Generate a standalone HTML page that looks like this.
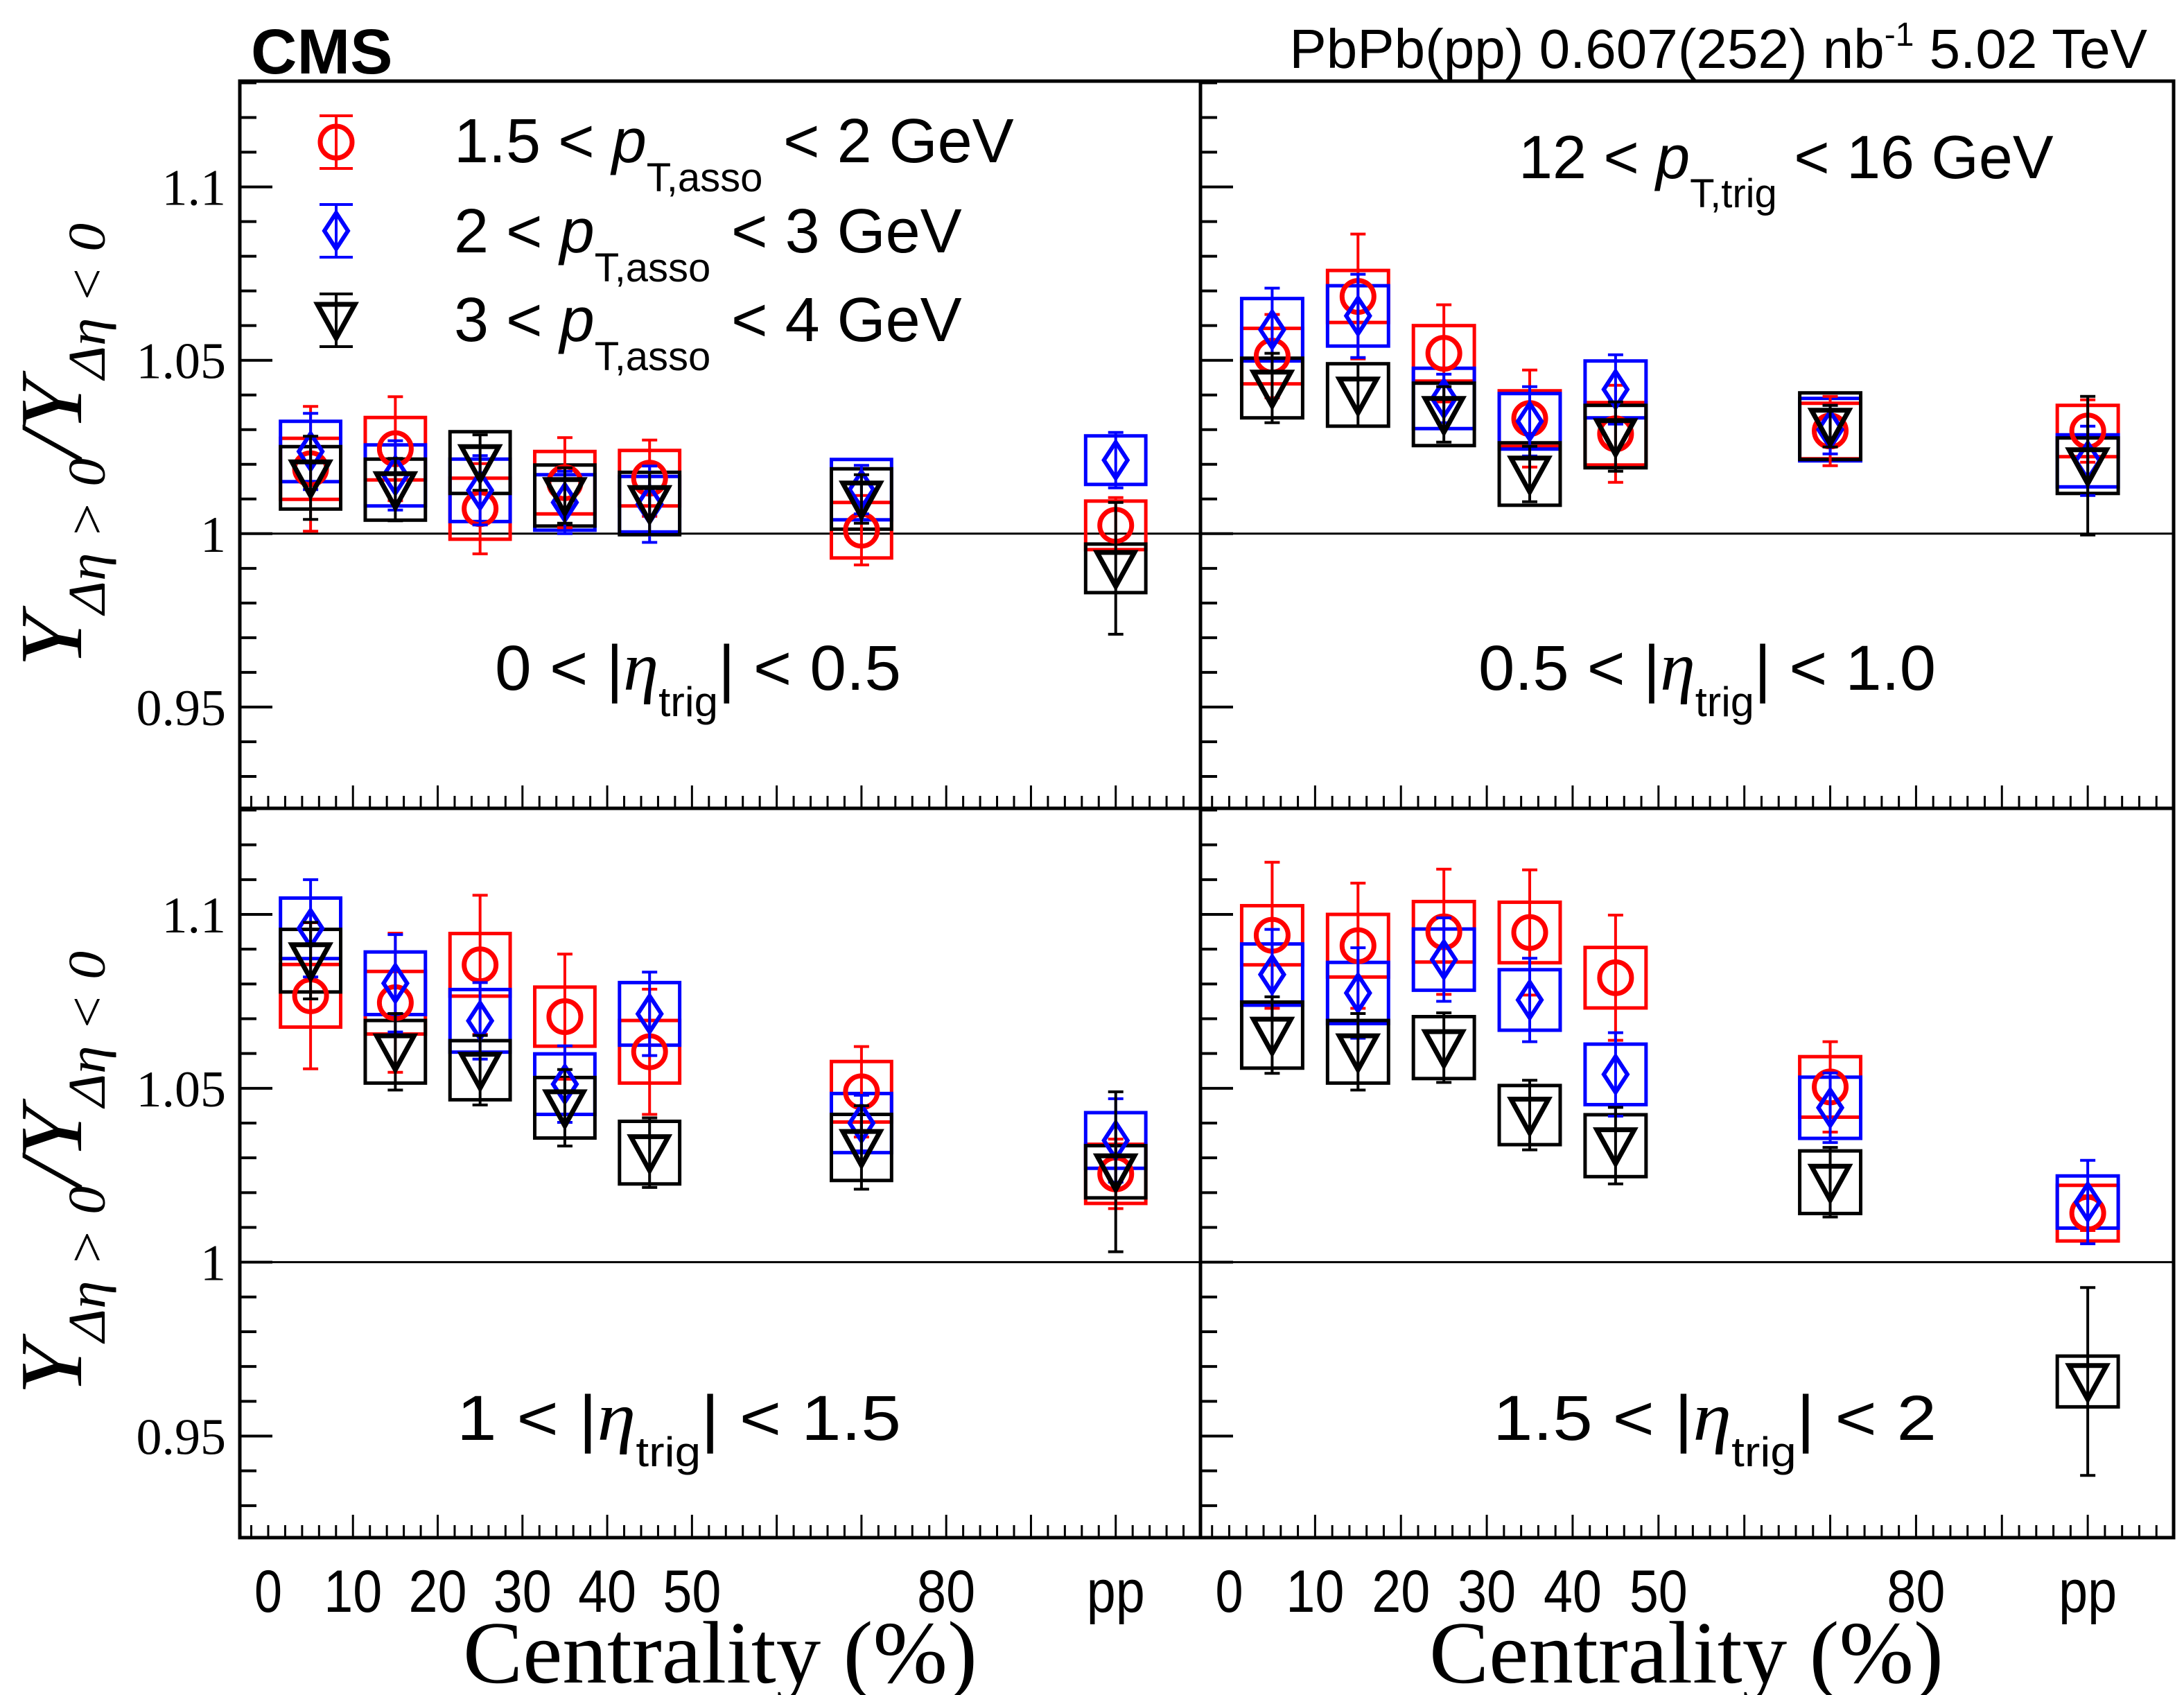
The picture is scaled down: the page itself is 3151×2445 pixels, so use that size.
<!DOCTYPE html>
<html><head><meta charset="utf-8">
<style>
html,body{margin:0;padding:0;background:#fff;}
svg{display:block;}
text{font-family:"Liberation Sans",sans-serif;}
.serif{font-family:"Liberation Serif",serif;}
</style></head>
<body>
<svg id="chart" width="3151" height="2445" viewBox="0 0 3151 2445" xmlns="http://www.w3.org/2000/svg">
<rect x="0" y="0" width="3151" height="2445" fill="#fff"/>
<g id="marks"></g>
<g id="frames"></g>
<text x="362" y="106" font-size="92" font-weight="bold">CMS</text>
<text x="3098" y="98" font-size="80" text-anchor="end">PbPb(pp) 0.607(252) nb<tspan font-size="48" dy="-32">-1</tspan><tspan dy="32"> 5.02 TeV</tspan></text>

<g>
 <text x="655" y="234" font-size="90">1.5 &lt; <tspan font-style="italic">p</tspan><tspan font-size="58" dy="42">T,asso</tspan><tspan dy="-42" x="1130">&lt; 2 GeV</tspan></text>
 <text x="655" y="364" font-size="90">2 &lt; <tspan font-style="italic">p</tspan><tspan font-size="58" dy="42">T,asso</tspan><tspan dy="-42" x="1055">&lt; 3 GeV</tspan></text>
 <text x="655" y="492" font-size="90">3 &lt; <tspan font-style="italic">p</tspan><tspan font-size="58" dy="42">T,asso</tspan><tspan dy="-42" x="1055">&lt; 4 GeV</tspan></text>
</g>
<text x="2191" y="257" font-size="88">12 &lt; <tspan font-style="italic">p</tspan><tspan font-size="58" dy="42">T,trig</tspan><tspan dy="-42"> &lt; 16 GeV</tspan></text>
<text x="714" y="995" font-size="92" textLength="586" lengthAdjust="spacingAndGlyphs">0 &lt; |<tspan font-style="italic" class="serif" font-size="100">η</tspan><tspan font-size="60" dy="38">trig</tspan><tspan dy="-38">| &lt; 0.5</tspan></text>
<text x="2133" y="995" font-size="92" textLength="660" lengthAdjust="spacingAndGlyphs">0.5 &lt; |<tspan font-style="italic" class="serif" font-size="100">η</tspan><tspan font-size="60" dy="38">trig</tspan><tspan dy="-38">| &lt; 1.0</tspan></text>
<text x="659" y="2077" font-size="92" textLength="641" lengthAdjust="spacingAndGlyphs">1 &lt; |<tspan font-style="italic" class="serif" font-size="100">η</tspan><tspan font-size="60" dy="38">trig</tspan><tspan dy="-38">| &lt; 1.5</tspan></text>
<text x="2154" y="2077" font-size="92" textLength="640" lengthAdjust="spacingAndGlyphs">1.5 &lt; |<tspan font-style="italic" class="serif" font-size="100">η</tspan><tspan font-size="60" dy="38">trig</tspan><tspan dy="-38">| &lt; 2</tspan></text>

<text class="serif" x="668" y="2427" font-size="128" textLength="742" lengthAdjust="spacingAndGlyphs">Centrality (%)</text>
<text class="serif" x="2062" y="2427" font-size="128" textLength="742" lengthAdjust="spacingAndGlyphs">Centrality (%)</text>

<text class="serif" transform="translate(117,962) rotate(-90)" font-size="128" textLength="640" lengthAdjust="spacingAndGlyphs"><tspan font-style="italic">Y</tspan><tspan font-size="76" dy="34" font-style="italic">Δη &gt; 0</tspan><tspan dy="-34" font-style="italic">/Y</tspan><tspan font-size="76" dy="34" font-style="italic">Δη &lt; 0</tspan></text>
<text class="serif" transform="translate(117,2012) rotate(-90)" font-size="128" textLength="640" lengthAdjust="spacingAndGlyphs"><tspan font-style="italic">Y</tspan><tspan font-size="76" dy="34" font-style="italic">Δη &gt; 0</tspan><tspan dy="-34" font-style="italic">/Y</tspan><tspan font-size="76" dy="34" font-style="italic">Δη &lt; 0</tspan></text>
</svg>
<script>
const categories = [5, 15, 25, 35, 45, 70, 100];
const xTickValues = [0, 10, 20, 30, 40, 50, 80, 100];
const xTickLabels = ["0", "10", "20", "30", "40", "50", "80", "pp"];
const yTickValues = [0.95, 1, 1.05, 1.1];
const yTickLabels = ["0.95", "1", "1.05", "1.1"];
const seriesNames = ["red", "blue", "black"];

// top-left: 0<|eta|<0.5
const tlRed = [1.0187, 1.0245, 1.0072, 1.0147, 1.016, 1.001, 1.0024];
const tlRedStat = [0.018, 0.015, 0.013, 0.013, 0.011, 0.01, 0.008];
const tlRedSys = [0.0088, 0.009, 0.0088, 0.009, 0.008, 0.008, 0.007];
const tlBlue = [1.0237, 1.0168, 1.0125, 1.009, 1.0085, 1.0127, 1.0212];
const tlBlueStat = [0.011, 0.010, 0.010, 0.009, 0.011, 0.007, 0.008];
const tlBlueSys = [0.0087, 0.0088, 0.009, 0.008, 0.008, 0.0087, 0.007];
const tlBlack = [1.0161, 1.0127, 1.0205, 1.011, 1.0087, 1.010, 0.990];
const tlBlackStat = [0.012, 0.009, 0.008, 0.008, 0.009, 0.007, 0.019];
const tlBlackSys = [0.009, 0.0088, 0.0089, 0.0088, 0.009, 0.0087, 0.007];

// top-right: 0.5<|eta|<1.0
const trRed = [1.0512, 1.0684, 1.052, 1.0332, 1.0288, 1.0296, 1.0296];
const trRedStat = [0.012, 0.018, 0.014, 0.014, 0.014, 0.01, 0.009];
const trRedSys = [0.008, 0.0075, 0.008, 0.008, 0.009, 0.008, 0.0074];
const trBlue = [1.0588, 1.0628, 1.039, 1.0324, 1.0416, 1.030, 1.021];
const trBlueStat = [0.012, 0.012, 0.007, 0.01, 0.01, 0.007, 0.01];
const trBlueSys = [0.009, 0.0087, 0.0087, 0.008, 0.0082, 0.009, 0.0075];
const trBlack = [1.042, 1.040, 1.0344, 1.0172, 1.028, 1.031, 1.0196];
const trBlackStat = [0.01, 0.009, 0.008, 0.008, 0.01, 0.006, 0.02];
const trBlackSys = [0.0086, 0.009, 0.009, 0.009, 0.009, 0.0096, 0.008];

// bottom-left: 1<|eta|<1.5
const blRed = [1.0766, 1.0746, 1.0855, 1.0706, 1.0605, 1.049, 1.0254];
const blRedStat = [0.021, 0.02, 0.02, 0.018, 0.018, 0.013, 0.01];
const blRedSys = [0.009, 0.009, 0.009, 0.0085, 0.009, 0.0087, 0.0085];
const blBlue = [1.096, 1.0802, 1.0694, 1.0512, 1.0714, 1.040, 1.035];
const blBlueStat = [0.014, 0.014, 0.011, 0.011, 0.012, 0.008, 0.012];
const blBlueSys = [0.0087, 0.009, 0.009, 0.0087, 0.009, 0.0085, 0.008];
const blBlack = [1.0867, 1.0605, 1.0552, 1.0444, 1.0315, 1.033, 1.026];
const blBlackStat = [0.011, 0.011, 0.01, 0.011, 0.01, 0.012, 0.023];
const blBlackSys = [0.009, 0.009, 0.0085, 0.0087, 0.009, 0.0095, 0.0075];

// bottom-right: 1.5<|eta|<2
const brRed = [1.094, 1.091, 1.095, 1.0948, 1.0818, 1.0504, 1.0141];
const brRedStat = [0.021, 0.018, 0.018, 0.018, 0.018, 0.013, 0.005];
const brRedSys = [0.0085, 0.009, 0.0087, 0.0087, 0.0087, 0.0087, 0.008];
const brBlue = [1.0827, 1.0774, 1.087, 1.0754, 1.054, 1.0444, 1.0173];
const brBlueStat = [0.013, 0.013, 0.012, 0.012, 0.012, 0.01, 0.012];
const brBlueSys = [0.0088, 0.0088, 0.0088, 0.0087, 0.0087, 0.0088, 0.0075];
const brBlack = [1.0653, 1.0605, 1.0617, 1.0423, 1.0335, 1.023, 0.9657];
const brBlackStat = [0.011, 0.011, 0.01, 0.01, 0.011, 0.01, 0.027];
const brBlackSys = [0.0095, 0.009, 0.0089, 0.0085, 0.0089, 0.009, 0.0073];

const NS = "http://www.w3.org/2000/svg";
const XMIN = -3.35, XMAX = 110, YMIN = 0.9208, YMAX = 1.1305;
const panels = [
  {name:"tl", x0:346, x1:1732, y0:117, y1:1166, s:[[tlRed,tlRedStat,tlRedSys],[tlBlue,tlBlueStat,tlBlueSys],[tlBlack,tlBlackStat,tlBlackSys]], bottomLabels:false},
  {name:"tr", x0:1732, x1:3136, y0:117, y1:1166, s:[[trRed,trRedStat,trRedSys],[trBlue,trBlueStat,trBlueSys],[trBlack,trBlackStat,trBlackSys]], bottomLabels:false},
  {name:"bl", x0:346, x1:1732, y0:1166, y1:2218, s:[[blRed,blRedStat,blRedSys],[blBlue,blBlueStat,blBlueSys],[blBlack,blBlackStat,blBlackSys]], bottomLabels:true},
  {name:"br", x0:1732, x1:3136, y0:1166, y1:2218, s:[[brRed,brRedStat,brRedSys],[brBlue,brBlueStat,brBlueSys],[brBlack,brBlackStat,brBlackSys]], bottomLabels:true}
];
const colors = {red:"#ff0000", blue:"#0000ff", black:"#000000"};
const marks = document.getElementById("marks");
const frames = document.getElementById("frames");

function mk(tag, attrs, parent) {
  const e = document.createElementNS(NS, tag);
  for (const k in attrs) e.setAttribute(k, attrs[k]);
  parent.appendChild(e);
  return e;
}
function xScale(p, v) { return p.x0 + (v - XMIN) / (XMAX - XMIN) * (p.x1 - p.x0); }
function yScale(p, v) { return p.y1 - (v - YMIN) / (YMAX - YMIN) * (p.y1 - p.y0); }

function marker(kind, cx, cy, col, parent) {
  let el;
  if (kind === "red") {
    el = mk("circle", {cx:cx, cy:cy, r:23, fill:"none", stroke:col, "stroke-width":7}, parent);
  } else if (kind === "blue") {
    el = mk("polygon", {points:`${cx},${cy-26} ${cx+17},${cy} ${cx},${cy+26} ${cx-17},${cy}`, fill:"none", stroke:col, "stroke-width":6}, parent);
  } else {
    el = mk("polygon", {points:`${cx-27},${cy-23} ${cx+27},${cy-23} ${cx},${cy+26}`, fill:"none", stroke:col, "stroke-width":7, "stroke-linejoin":"miter"}, parent);
  }
  return el;
}

panels.forEach(p => {
  const g = mk("g", {}, marks);
  
  
  const ul = mk("line", {x1:p.x0, x2:p.x1, y1:yScale(p,1), y2:yScale(p,1), stroke:"#000", "stroke-width":3}, g);
  
  
  p.s.forEach((ser, si) => {
    const col = colors[seriesNames[si]];
    categories.forEach((c, i) => {
      const cx = xScale(p, c);
      const bw = xScale(p, c + 3.55) - cx;
      const yt = yScale(p, ser[0][i] + ser[2][i]), yb = yScale(p, ser[0][i] - ser[2][i]);
      const b = mk("rect", {x:cx-bw, y:yt, width:2*bw, height:yb-yt, fill:"none", stroke:col, "stroke-width":5}, g);
      
      
    });
  });
  p.s.forEach((ser, si) => {
    const col = colors[seriesNames[si]];
    categories.forEach((c, i) => {
      const cx = xScale(p, c), cy = yScale(p, ser[0][i]);
      const yt = yScale(p, ser[0][i] + ser[1][i]), yb = yScale(p, ser[0][i] - ser[1][i]);
      const eg = mk("g", {}, g);
      
      
      mk("line", {x1:cx, x2:cx, y1:yt, y2:yb, stroke:col, "stroke-width":4}, eg);
      mk("line", {x1:cx-11, x2:cx+11, y1:yt, y2:yt, stroke:col, "stroke-width":4}, eg);
      mk("line", {x1:cx-11, x2:cx+11, y1:yb, y2:yb, stroke:col, "stroke-width":4}, eg);
      const m = marker(seriesNames[si], cx, cy, col, g);
      
      
    });
  });
  const fr = mk("rect", {x:p.x0, y:p.y0, width:p.x1-p.x0, height:p.y1-p.y0, fill:"none", stroke:"#000", "stroke-width":5}, frames);
  
  
  for (let k = 0; k <= 21; k++) {
    const v = Math.round((0.93 + k * 0.01) * 1000) / 1000;
    if (v < YMIN || v > YMAX) continue;
    const major = Math.abs(v * 100 - Math.round(v * 20) * 5) < 1e-6;
    const y = yScale(p, v);
    const t = mk("line", {x1:p.x0, x2:p.x0 + (major ? 47 : 24), y1:y, y2:y, stroke:"#000", "stroke-width":4}, frames);
    
    
  }
  for (let v = -2; v <= 110; v += 2) {
    const major = v > 0 && v % 10 === 0;
    const x = xScale(p, v);
    if (x >= p.x1 - 2) continue;
    const t = mk("line", {x1:x, x2:x, y1:p.y1, y2:p.y1 - (major ? 33 : 18), stroke:"#000", "stroke-width":3}, frames);
    
    
  }
  if (p.x0 < 1000) {
    yTickValues.forEach((v, i) => {
      const t = mk("text", {x:326, y:yScale(p, v) + 26, "font-size":74, "text-anchor":"end", class:"serif"}, frames);
      t.textContent = yTickLabels[i];
      
      
    });
  }
  if (p.bottomLabels) {
    xTickValues.forEach((v, i) => {
      const w = xTickLabels[i].length === 1 ? 40 : 84;
      const t = mk("text", {x:xScale(p, v), y:2325, "font-size":86, "text-anchor":"middle", textLength:w, lengthAdjust:"spacingAndGlyphs"}, frames);
      t.textContent = xTickLabels[i];
      
      
    });
  }
});

const leg = document.createElementNS(NS, "g");


document.getElementById("chart").appendChild(leg);
[205, 333, 462].forEach((y, si) => {
  const col = colors[seriesNames[si]];
  mk("line", {x1:485, x2:485, y1:y-38, y2:y+38, stroke:col, "stroke-width":4}, leg);
  mk("line", {x1:461, x2:509, y1:y-38, y2:y-38, stroke:col, "stroke-width":4}, leg);
  mk("line", {x1:461, x2:509, y1:y+38, y2:y+38, stroke:col, "stroke-width":4}, leg);
  const m = marker(seriesNames[si], 485, y, col, leg);
  
  
});
</script>
</body></html>
